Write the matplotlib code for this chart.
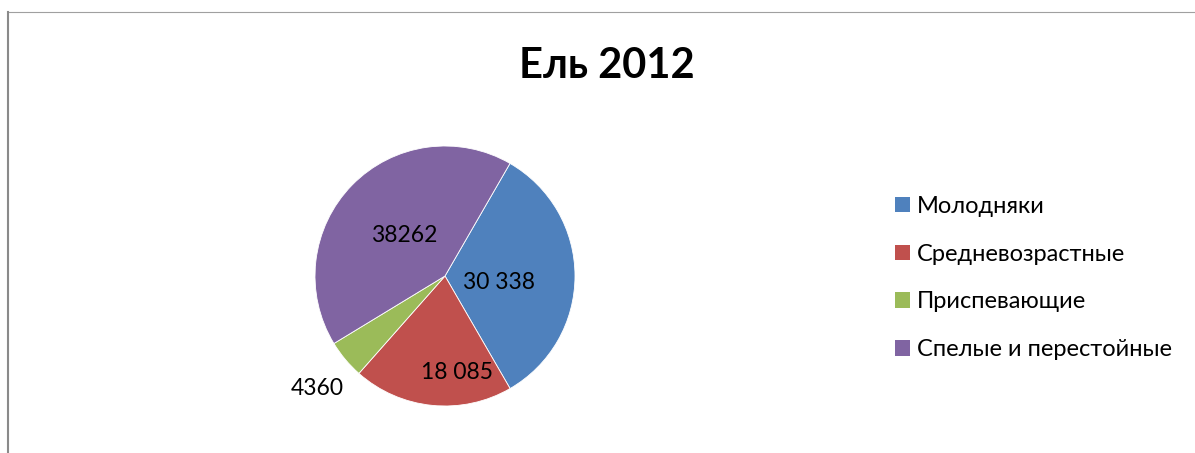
import matplotlib
matplotlib.use("Agg")
import matplotlib.pyplot as plt
import numpy as np
from matplotlib.lines import Line2D

# Data
categories = ["Молодняки", "Средневозрастные", "Приспевающие", "Спелые и перестойные"]
values = [30338, 18085, 4360, 38262]
value_labels = ["30 338", "18 085", "4360", "38262"]
colors = ["#4F81BD", "#C0504D", "#9BBB59", "#8064A2"]
title = "Ель 2012"

# label placement: radial distance (in radii) and angular nudge from slice middle (deg)
label_r = [0.42, 0.73, 1.30, 0.45]
label_turn = [-5, 13, 1, -2]

W, H = 1195, 453
plt.rcParams['font.family'] = ['Lato', 'DejaVu Sans']
fig = plt.figure(figsize=(W / 100, H / 100), dpi=100)

# pie axes: centre ~ (445, 276) px, radius ~130 px
cx, cy, rad = 445, 276, 130
ax = fig.add_axes([(cx - rad) / W, 1 - (cy + rad) / H, 2 * rad / W, 2 * rad / H])
wedges, _ = ax.pie(values, colors=colors, startangle=60, counterclock=False,
                   radius=1, wedgeprops=dict(edgecolor="white", linewidth=0.6))
ax.set_xlim(-1, 1)
ax.set_ylim(-1, 1)
ax.set_aspect("equal")
ax.axis("off")

for w, lab, r, turn in zip(wedges, value_labels, label_r, label_turn):
    mid = np.deg2rad((w.theta1 + w.theta2) / 2 + turn)
    ax.text(r * np.cos(mid), r * np.sin(mid), lab, ha="center", va="center_baseline",
            fontsize=16.5, color="black", clip_on=False)

fig.text(607 / W, 1 - 78.5 / H, title, ha="center", va="baseline",
         fontsize=30, fontweight="bold")

handles = [plt.Rectangle((0, 0), 1, 1, facecolor=c, edgecolor="none") for c in colors]
fig.legend(handles, categories, loc="center left", bbox_to_anchor=(895 / W, 1 - 278 / H),
           frameon=False, fontsize=17, handlelength=0.64, handleheight=0.64,
           handletextpad=0.3, labelspacing=1.13, borderpad=0, borderaxespad=0)

# chart frame (top and left edges visible)
fig.add_artist(Line2D([8 / W, 1], [1 - 12 / H, 1 - 12 / H], color="#a0a0a0", lw=0.8))
fig.add_artist(Line2D([8 / W, 8 / W], [0, 1 - 12 / H], color="#8a8a8a", lw=1.5))

fig.savefig("out.png", dpi=100)
